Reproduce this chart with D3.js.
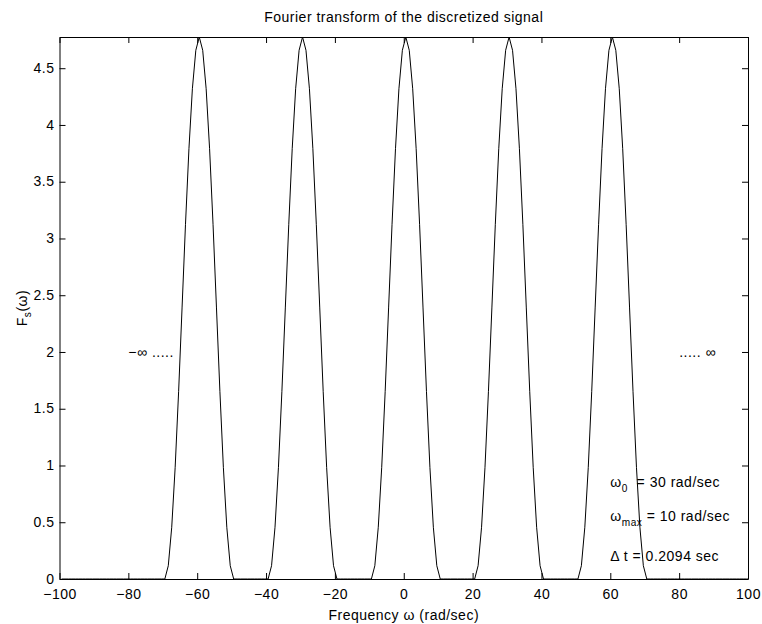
<!DOCTYPE html>
<html>
<head>
<meta charset="utf-8">
<script src="https://cdn.jsdelivr.net/npm/d3@7"></script>
<style>
  html, body { margin: 0; padding: 0; background: #fff; }
  svg text { font-family: "Liberation Sans", Arial, Helvetica, sans-serif; fill: #000; letter-spacing: 0.5px; }
</style>
</head>
<body>
<svg id="chart" width="762" height="624"></svg>
<script>
// ---- data ----
const omegaStart = -99.4;   // first sample of the frequency grid (rad/sec)
const omegaStep = 1;        // sample spacing (rad/sec)
const Fs = [
  0,0,0,0,0,0,0,0,0,0, 0,0,0,0,0,0,0,0,0,0, 0,0,0,0,0,0,0,0,0,0, 0,
  0.117,0.456,0.984,1.650,2.388,3.125,3.791,4.319,4.658,4.775,4.658,4.319,3.791,3.125,2.388,1.650,0.984,0.456,0.117,
  0,0,0,0,0,0,0,0,0,0,0,
  0.117,0.456,0.984,1.650,2.388,3.125,3.791,4.319,4.658,4.775,4.658,4.319,3.791,3.125,2.388,1.650,0.984,0.456,0.117,
  0,0,0,0,0,0,0,0,0,0,0,
  0.117,0.456,0.984,1.650,2.388,3.125,3.791,4.319,4.658,4.775,4.658,4.319,3.791,3.125,2.388,1.650,0.984,0.456,0.117,
  0,0,0,0,0,0,0,0,0,0,0,
  0.117,0.456,0.984,1.650,2.388,3.125,3.791,4.319,4.658,4.775,4.658,4.319,3.791,3.125,2.388,1.650,0.984,0.456,0.117,
  0,0,0,0,0,0,0,0,0,0,0,
  0.117,0.456,0.984,1.650,2.388,3.125,3.791,4.319,4.658,4.775,4.658,4.319,3.791,3.125,2.388,1.650,0.984,0.456,0.117,
  0,0,0,0,0,0,0,0,0,0, 0,0,0,0,0,0,0,0,0,0, 0,0,0,0,0,0,0,0,0,0, 0
];
const xTicks = [-100, -80, -60, -40, -20, 0, 20, 40, 60, 80, 100];
const yTicks = [0, 0.5, 1, 1.5, 2, 2.5, 3, 3.5, 4, 4.5];
const xDomain = [-100, 100];
const yDomain = [0, 4.775];
const titleText = "Fourier transform of the discretized signal";
const xLabelText = "Frequency \u03C9 (rad/sec)";
// annotations: [x, y, parts]
const annotations = [
  { x: -80, y: 2,    parts: [["\u2212\u221E .....", null]] },
  { x: 80,  y: 2,    parts: [["..... \u221E", null]] },
  { x: 60,  y: 0.85, parts: [["\u03C9", null], ["0", "sub"], ["  = 30 rad/sec", null]] },
  { x: 60,  y: 0.55, parts: [["\u03C9", null], ["max", "sub"], [" = 10 rad/sec", null]] },
  { x: 60,  y: 0.2,  parts: [["\u0394 t = 0.2094 sec", null]] }
];

// ---- layout ----
const margin = { left: 59.5, right: 762 - 748, top: 37, bottom: 624 - 579 };
const W = 762, H = 624;
const svg = d3.select("#chart");
const x = d3.scaleLinear().domain(xDomain).range([margin.left, W - margin.right]);
const y = d3.scaleLinear().domain(yDomain).range([H - margin.bottom, margin.top]);
const fontSize = 14;
const tickLen = 6;

const points = Fs.map((v, i) => [omegaStart + i * omegaStep, v]);

svg.append("clipPath").attr("id", "clip")
  .append("rect")
  .attr("x", x(xDomain[0])).attr("y", y(yDomain[1]) - 1)
  .attr("width", x(xDomain[1]) - x(xDomain[0]))
  .attr("height", y(yDomain[0]) - y(yDomain[1]) + 1);

// line
svg.append("path")
  .datum(points)
  .attr("clip-path", "url(#clip)")
  .attr("fill", "none")
  .attr("stroke", "#000")
  .attr("stroke-width", 1)
  .attr("d", d3.line().x(d => x(d[0])).y(d => y(d[1])));

// axes (MATLAB style box with inward ticks on all sides)
const gx = svg.append("g").attr("transform", `translate(0,${y(0)})`)
  .call(d3.axisBottom(x).tickValues(xTicks).tickSizeInner(-tickLen).tickSizeOuter(0)
    .tickFormat(d => d < 0 ? "\u2212" + Math.abs(d) : String(d)).tickPadding(10));
const gxTop = svg.append("g").attr("transform", `translate(0,${y(yDomain[1])})`)
  .call(d3.axisTop(x).tickValues(xTicks).tickSizeInner(-tickLen).tickSizeOuter(0).tickFormat(""));
const gy = svg.append("g").attr("transform", `translate(${x(xDomain[0])},0)`)
  .call(d3.axisLeft(y).tickValues(yTicks).tickSizeInner(-tickLen).tickSizeOuter(0)
    .tickFormat(d => String(d)).tickPadding(5));
const gyRight = svg.append("g").attr("transform", `translate(${x(xDomain[1])},0)`)
  .call(d3.axisRight(y).tickValues(yTicks).tickSizeInner(-tickLen).tickSizeOuter(0).tickFormat(""));

[gx, gxTop, gy, gyRight].forEach(g => {
  g.selectAll("path.domain").attr("stroke", "#000").attr("stroke-width", 1);
  g.selectAll(".tick line").attr("stroke", "#000").attr("stroke-width", 1);
  g.selectAll("text").attr("font-size", fontSize).attr("font-family", null).attr("fill", "#000");
});
gx.selectAll("text").attr("dy", "0.71em");
gy.selectAll("text").attr("dy", "0.3em");

// title
svg.append("text")
  .attr("x", (x(xDomain[0]) + x(xDomain[1])) / 2)
  .attr("y", 22)
  .attr("text-anchor", "middle")
  .attr("font-size", fontSize)
  .text(titleText);

// x label
svg.append("text")
  .attr("x", (x(xDomain[0]) + x(xDomain[1])) / 2)
  .attr("y", 620)
  .attr("text-anchor", "middle")
  .attr("font-size", fontSize)
  .text(xLabelText);

// y label F_s(ω)
const yl = svg.append("text")
  .attr("transform", `translate(27,${(y(yDomain[0]) + y(yDomain[1])) / 2}) rotate(-90)`)
  .attr("text-anchor", "middle")
  .attr("font-size", fontSize);
yl.append("tspan").text("F");
yl.append("tspan").attr("font-size", fontSize * 0.72).attr("dy", 4).text("s");
yl.append("tspan").attr("dy", -4).text("(\u03C9)");

// annotations
annotations.forEach(a => {
  const t = svg.append("text")
    .attr("x", x(a.x))
    .attr("y", y(a.y))
    .attr("dy", "0.35em")
    .attr("font-size", fontSize);
  let shifted = false;
  a.parts.forEach(([s, kind]) => {
    const ts = t.append("tspan").text(s).attr("xml:space", "preserve").style("white-space", "pre");
    if (kind === "sub") {
      ts.attr("font-size", fontSize * 0.72).attr("dy", 5);
      shifted = true;
    } else if (shifted) {
      ts.attr("dy", -5);
      shifted = false;
    }
  });
});
</script>
</body>
</html>
